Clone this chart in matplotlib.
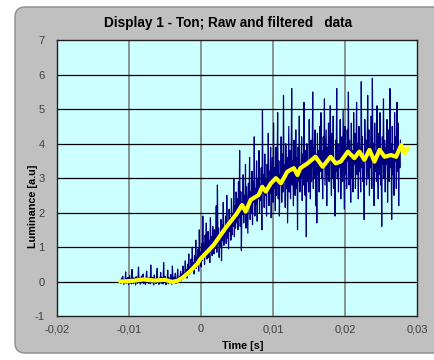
import numpy as np
import matplotlib
matplotlib.use("Agg")
import matplotlib.pyplot as plt
from matplotlib.patches import FancyBboxPatch

plt.rcParams['font.family'] = ['Liberation Sans', 'DejaVu Sans']

# ---------------- data ----------------
raw_t_start = -0.0112
raw_t_end = 0.0277
raw_values = [
    # flat part
    0.02, -0.06, 0.10, -0.03, 0.15, 0.01, -0.08, 0.06, -0.02, 0.28,
    -0.05, 0.08, 0.00, 0.12, -0.09, 0.04, 0.18, -0.04, 0.07, -0.07,
    0.35, 0.03, -0.06, 0.11, -0.02, 0.09, -0.10, 0.14, 0.02, -0.05,
    0.06, 0.42, -0.03, 0.10, -0.08, 0.05, 0.16, -0.04, 0.03, 0.22,
    -0.06, 0.09, 0.01, -0.09, 0.13, 0.30, -0.02, 0.07, -0.05, 0.11,
    0.04, -0.07, 0.48, 0.02, -0.04, 0.12, 0.06, -0.10, 0.19, 0.00,
    0.08, -0.06, 0.14, 0.38, -0.03, 0.05, -0.08, 0.10, 0.03, 0.26,
    -0.05, 0.12, 0.01, -0.07, 0.55, 0.04, -0.02, 0.15, -0.09, 0.08,
    0.02, 0.33, -0.06, 0.11, 0.05, -0.04, 0.20, 0.03, -0.08, 0.45,
    0.06, -0.03, 0.13, 0.00, 0.24, -0.06, 0.09, 0.04, 0.36, 0.02,
    # onset
    -0.02, 0.15, 0.05, 0.30, 0.02, 0.22, 0.10, 0.45, 0.08, 0.25,
    0.12, 0.60, 0.18, 0.35, 0.10, 0.50, 0.28, 0.80, 0.20, 0.42,
    0.25, 0.65, 0.30, 1.00, 0.35, 0.55, 0.22, 0.75, 0.40, 1.20,
    0.38, 0.70, 0.45, 0.95, 0.30, 1.50, 0.55, 0.85, 0.42, 1.10,
    # rise
    0.60, 1.90, 0.75, 1.10, 0.50, 1.35, 0.80, 1.70, 0.65, 1.00,
    1.45, 0.70, 1.20, 0.55, 1.85, 0.90, 1.30, 0.75, 1.60, 1.05,
    0.80, 1.50, 0.95, 1.25, 2.20, 0.85, 2.80, 1.10, 1.55, 0.70,
    1.40, 1.00, 1.80, 0.60, 1.65, 1.20, 2.30, 1.05, 1.50, 1.30,
    1.90, 1.10, 2.50, 1.25, 1.70, 0.95, 2.10, 1.45, 1.85, 1.20,
    2.40, 1.35, 1.95, 1.60, 3.00, 1.30, 2.20, 1.55, 2.60, 1.70,
    2.40, 1.50, 2.90, 1.85, 3.80, 1.60, 2.60, 0.90, 2.30, 1.95,
    3.10, 1.70, 2.50, 2.05, 3.40, 1.55, 2.75, 2.10, 1.40, 2.85,
    2.20, 3.60, 1.80, 2.60, 2.00, 3.20, 1.65, 2.90, 2.30, 4.20,
    1.90, 2.70, 2.25, 3.50, 1.75, 3.00, 2.40, 3.80, 2.00, 2.80,
    2.35, 3.30, 1.50, 5.00, 2.60, 3.10, 2.15, 3.70, 2.50, 2.95,
    1.90, 3.40, 2.70, 4.30, 2.20, 3.20, 2.55, 3.90, 1.85, 3.05,
    # bend
    3.60, 2.30, 4.60, 2.70, 3.30, 2.05, 3.90, 2.50, 3.20, 4.90,
    2.40, 3.50, 1.90, 3.10, 2.80, 4.20, 2.30, 3.70, 2.60, 5.40,
    2.90, 3.40, 2.15, 4.00, 2.70, 3.60, 1.70, 3.20, 4.50, 2.60,
    3.80, 2.40, 3.30, 5.60, 2.80, 3.50, 2.20, 4.10, 3.00, 2.50,
    4.40, 2.70, 3.60, 1.50, 3.90, 2.90, 4.80, 2.60, 3.40, 3.00,
    4.20, 2.35, 3.70, 2.80, 5.20, 3.10, 2.50, 3.80, 1.30, 4.00,
    2.90, 3.50, 2.60, 4.70, 3.20, 2.40, 4.10, 2.90, 3.60, 5.50,
    2.70, 3.90, 3.00, 4.40, 2.20, 3.70, 1.70, 4.30, 3.10, 3.80,
    # plateau
    2.60, 4.50, 3.20, 4.90, 3.00, 3.80, 2.40, 4.20, 3.40, 5.30,
    2.80, 3.60, 4.40, 2.20, 3.90, 3.10, 4.60, 2.90, 3.70, 5.10,
    3.30, 2.50, 4.30, 3.00, 4.80, 2.70, 3.50, 1.90, 4.10, 3.20,
    5.60, 3.00, 4.00, 2.60, 3.80, 3.30, 4.70, 2.40, 3.60, 4.20,
    2.90, 5.00, 3.40, 2.10, 4.50, 3.10, 3.90, 2.70, 4.40, 3.50,
    5.50, 2.80, 4.10, 3.30, 2.30, 4.60, 3.00, 3.80, 2.60, 4.90,
    3.40, 4.30, 2.70, 3.70, 5.20, 3.10, 4.00, 2.40, 4.50, 3.20,
    3.90, 2.60, 5.80, 3.30, 4.20, 2.90, 3.60, 1.80, 4.70, 3.50,
    4.10, 2.80, 3.70, 5.40, 3.00, 4.40, 2.50, 3.90, 3.30, 4.80,
    2.70, 5.90, 3.50, 4.00, 2.20, 4.60, 3.20, 3.80, 2.90, 5.10,
    3.60, 2.40, 4.30, 3.10, 4.90, 2.80, 3.70, 1.60, 4.20, 3.40,
    5.30, 3.00, 4.10, 2.60, 3.90, 3.40, 4.70, 2.30, 3.60, 4.40,
    2.90, 5.60, 3.30, 4.00, 1.80, 4.50, 3.10, 3.80, 2.50, 4.90,
    3.50, 4.20, 2.70, 5.20, 3.20, 4.60, 2.20, 3.90, 3.30, 4.10,
]

filt_t = [
    -0.0112, -0.0095, -0.0080, -0.0065, -0.0050, -0.0040, -0.0033, -0.0025,
    -0.0015, -0.0005, -0.0001, 0.00176, 0.0034, 0.0050, 0.0057, 0.0062,
    0.0069, 0.0080, 0.0085, 0.0090, 0.0097, 0.0104, 0.0111, 0.0120,
    0.0129, 0.0134, 0.0138, 0.0148, 0.0159, 0.0169, 0.0180, 0.0187,
    0.0194, 0.0204, 0.0213, 0.0220, 0.0227, 0.0234, 0.0241, 0.0248,
    0.0255, 0.0264, 0.0271, 0.0278, 0.0283, 0.0287,
]
filt_y = [
    0.00, 0.02, 0.06, 0.03, 0.05, -0.01, 0.02, 0.12,
    0.30, 0.52, 0.65, 1.06, 1.55, 1.98, 2.22, 2.03,
    2.37, 2.51, 2.75, 2.61, 2.85, 3.00, 2.85, 3.19,
    3.29, 3.09, 3.29, 3.43, 3.62, 3.33, 3.62, 3.43,
    3.48, 3.77, 3.58, 3.77, 3.53, 3.82, 3.48, 3.82,
    3.62, 3.67, 3.62, 3.96, 3.72, 3.87,
]

x_ticks = [-0.02, -0.01, 0.0, 0.01, 0.02, 0.03]
x_tick_labels = ['-0,02', '-0,01', '0', '0,01', '0,02', '0,03']
y_ticks = [-1, 0, 1, 2, 3, 4, 5, 6, 7]
y_tick_labels = ['-1', '0', '1', '2', '3', '4', '5', '6', '7']

title = 'Display 1 - Ton; Raw and filtered   data'
x_label = 'Time [s]'
y_label = 'Luminance [a.u]'

# ---------------- figure ----------------
W, H, DPI = 435, 360, 100
fig = plt.figure(figsize=(W / DPI, H / DPI), dpi=DPI, facecolor='white')

panel = FancyBboxPatch((15, 7), 440, 346, boxstyle='round,pad=0,rounding_size=10',
                       transform=None, facecolor='#c0c0c0', edgecolor='#8c8c8c',
                       linewidth=1.0, zorder=-10)
fig.patches.append(panel)

ax = fig.add_axes([57 / W, 1 - 316 / H, (417 - 57) / W, (316 - 40.3) / H])
ax.set_zorder(5)
ax.set_facecolor('#ccffff')

raw_t = np.linspace(raw_t_start, raw_t_end, len(raw_values))
ax.plot(raw_t, raw_values, color='#000080', linewidth=0.85, zorder=3)
ax.plot(filt_t, filt_y, color='#ffff00', linewidth=3.0, solid_capstyle='round',
        solid_joinstyle='round', zorder=4)

ax.set_xlim(-0.02, 0.03)
ax.set_ylim(-1, 7)
ax.set_xticks(x_ticks)
ax.set_xticklabels(x_tick_labels)
ax.set_yticks(y_ticks)
ax.set_yticklabels(y_tick_labels)
ax.tick_params(axis='both', length=0, labelsize=8, labelcolor='#404040')
ax.tick_params(axis='x', pad=6)
ax.tick_params(axis='y', pad=9)

for v in x_ticks[1:-1]:
    ax.axvline(v, color='#808080', linewidth=1.2, zorder=1)
for v in y_ticks[1:-1]:
    ax.axhline(v, color='black', linewidth=0.9, zorder=1)

for s in ax.spines.values():
    s.set_color('#202020')
    s.set_linewidth(1.0)

fig.text(228 / W, 1 - 23.5 / H, title, ha='center', va='center',
         fontsize=9.8, fontweight='bold', color='black', zorder=6)
fig.text(242.5 / W, 1 - 346 / H, x_label, ha='center', va='center',
         fontsize=7.8, fontweight='bold', color='black', zorder=6)
fig.text(33 / W, 1 - 206 / H, y_label, ha='center', va='center', rotation=90,
         fontsize=7.8, fontweight='bold', color='black', zorder=6)

fig.savefig('out.png', dpi=DPI, facecolor='white')
